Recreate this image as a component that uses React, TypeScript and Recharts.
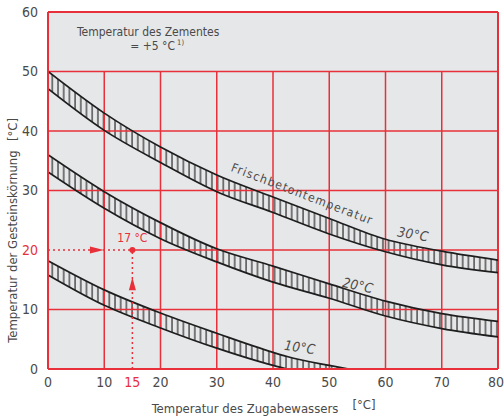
import React from 'react';
import { ComposedChart, Area, Line, XAxis, YAxis, CartesianGrid, ReferenceLine, ReferenceDot } from 'recharts';

// Wassertemperatur-Stützstellen (Zugabewasser, °C)
const waterX = [0, 10, 20, 30, 40, 50, 60, 70, 80];

// Band "30 °C" (Frischbetontemperatur)
const band30Upper = [50, 43.0, 37.3, 32.6, 28.9, 25.3, 21.8, 19.8, 18.3];
const band30Lower = [47.1, 40.1, 34.7, 29.8, 26.3, 22.7, 19.7, 17.5, 16.2];

// Band "20 °C"
const band20Upper = [36.0, 29.8, 24.6, 20.2, 17.3, 14.3, 11.4, 9.3, 8.0];
const band20Lower = [33.1, 27.0, 21.9, 18.0, 14.6, 11.9, 8.9, 6.8, 5.4];

// Band "10 °C" (läuft bei ca. 53 °C auf 0)
const band10X = [0, 10, 20, 30, 40, 42.5, 50, 53.5];
const band10Upper = [18.2, 13.3, 9.4, 6.0, 2.8, 2.1, 0.6, 0];
const band10Lower = [15.8, 10.7, 6.9, 3.5, 0.6, 0, 0, 0];

const xTicks = [0, 10, 15, 20, 30, 40, 50, 60, 70, 80];
const yTicks = [0, 10, 20, 30, 40, 50, 60];
const gridX = [10, 20, 30, 40, 50, 60, 70];
const gridY = [10, 30, 40, 50];

// Ablesebeispiel
const waterTemp = 15;
const stoneTemp = 20;
const exampleLabel = '17 °C';
const arrowRightAt = 8.7;
const arrowUpAt = 14.4;

const curveLabels = [
  { text: 'Frischbetontemperatur', x: 45.2, y: 29.4, angle: 21, spacing: 1.3, italic: false },
  { text: '30°C', x: 64.9, y: 22.7, angle: 10, spacing: 0.3, italic: true },
  { text: '20°C', x: 55.1, y: 14.1, angle: 12, spacing: 0.3, italic: true },
  { text: '10°C', x: 44.8, y: 3.7, angle: 8, spacing: 0.3, italic: true },
];

const RED = '#e8303a';
const TXT = '#4a4a4a';
const FONT = "'DejaVu Sans Condensed', 'Liberation Sans Narrow', Roboto, sans-serif";

const makeRows = (xs: number[], up: number[], lo: number[]) =>
  xs.map((x, i) => ({ x, upper: up[i], lower: lo[i], range: [lo[i], up[i]] }));

const rows30 = makeRows(waterX, band30Upper, band30Lower);
const rows20 = makeRows(waterX, band20Upper, band20Lower);
const rows10 = makeRows(band10X, band10Upper, band10Lower);
const rows10Lower = rows10.filter((r, i) => i === 0 || rows10[i - 1].lower > 0);

function XTick(props: any) {
  const { x, y, payload } = props;
  const v = payload.value;
  return (
    <text x={x} y={y} dy="0.71em" textAnchor="middle" fontSize={14} fontFamily={FONT}
      fill={v === waterTemp ? RED : TXT}>{v}</text>
  );
}

function YTick(props: any) {
  const { x, y, payload } = props;
  const v = payload.value;
  return (
    <text x={x} y={y} dy="0.355em" textAnchor="end" fontSize={14} fontFamily={FONT}
      fill={v === stoneTemp ? RED : TXT}>{v}</text>
  );
}

function XTitle(props: any) {
  const { x, width } = props.viewBox;
  const cx = x + width / 2;
  return (
    <g fontFamily={FONT} fill={TXT} fontSize={13}>
      <text x={cx - 28} y={413} textAnchor="middle">Temperatur des Zugabewassers</text>
      <text x={cx + 91} y={409} textAnchor="middle">[°C]</text>
    </g>
  );
}

function YTitle(props: any) {
  const { y, height } = props.viewBox;
  const cy = y + height / 2;
  return (
    <g fontFamily={FONT} fill={TXT} fontSize={13}>
      <text x={17} y={cy + 56} textAnchor="middle" transform={`rotate(-90 17 ${cy + 56})`}>
        Temperatur der Gesteinskörnung
      </text>
      <text x={17} y={cy - 61} textAnchor="middle" transform={`rotate(-90 17 ${cy - 61})`}>[°C]</text>
    </g>
  );
}

const arrowRight = (p: any) => (
  <path d={`M${p.cx + 7},${p.cy} L${p.cx - 7},${p.cy - 3.5} L${p.cx - 7},${p.cy + 3.5} Z`} fill={RED} />
);
const arrowUp = (p: any) => (
  <path d={`M${p.cx},${p.cy - 6} L${p.cx - 3.5},${p.cy + 7} L${p.cx + 3.5},${p.cy + 7} Z`} fill={RED} />
);

export default function App() {
  return (
    <div style={{ position: 'absolute', left: 0, top: 0 }}>
      <ComposedChart width={504} height={416} margin={{ top: 12, right: 6, bottom: 0, left: 0 }}>
        <defs>
          <pattern id="hatch" patternUnits="userSpaceOnUse" width={5.7} height={10}>
            <line x1={1} y1={0} x2={1} y2={10} stroke="#2b2b2b" strokeWidth={1.2} />
          </pattern>
        </defs>
        <CartesianGrid horizontal={false} vertical={false} fill="#e6e7e8" />
        <XAxis type="number" dataKey="x" domain={[0, 80]} ticks={xTicks} height={47}
          axisLine={{ stroke: RED, strokeWidth: 2 }} tickLine={false} tick={<XTick />}
          label={{ content: <XTitle /> }} allowDataOverflow />
        <YAxis type="number" domain={[0, 60]} ticks={yTicks} width={48} tickMargin={4}
          axisLine={{ stroke: RED, strokeWidth: 2 }} tickLine={false} tick={<YTick />}
          label={{ content: <YTitle /> }} allowDataOverflow />

        {gridY.map((v) => (
          <ReferenceLine key={'gy' + v} y={v} stroke={RED} strokeWidth={1.5} />
        ))}
        {gridX.map((v) => (
          <ReferenceLine key={'gx' + v} segment={[{ x: v, y: 0 }, { x: v, y: 50 }]} stroke={RED} strokeWidth={1.5} />
        ))}
        <ReferenceLine segment={[{ x: waterTemp, y: stoneTemp }, { x: 80, y: stoneTemp }]} stroke={RED} strokeWidth={1.5} />
        <ReferenceLine y={60} stroke={RED} strokeWidth={2} />
        <ReferenceLine x={80} stroke={RED} strokeWidth={2} />

        <Area data={rows30} dataKey="range" type="monotone" stroke="none" fill="url(#hatch)" fillOpacity={1} isAnimationActive={false} />
        <Area data={rows20} dataKey="range" type="monotone" stroke="none" fill="url(#hatch)" fillOpacity={1} isAnimationActive={false} />
        <Area data={rows10} dataKey="range" type="monotone" stroke="none" fill="url(#hatch)" fillOpacity={1} isAnimationActive={false} />
        <Line data={rows30} dataKey="upper" type="monotone" stroke="#1e1e1e" strokeWidth={1.7} dot={false} isAnimationActive={false} />
        <Line data={rows30} dataKey="lower" type="monotone" stroke="#1e1e1e" strokeWidth={1.7} dot={false} isAnimationActive={false} />
        <Line data={rows20} dataKey="upper" type="monotone" stroke="#1e1e1e" strokeWidth={1.7} dot={false} isAnimationActive={false} />
        <Line data={rows20} dataKey="lower" type="monotone" stroke="#1e1e1e" strokeWidth={1.7} dot={false} isAnimationActive={false} />
        <Line data={rows10} dataKey="upper" type="monotone" stroke="#1e1e1e" strokeWidth={1.7} dot={false} isAnimationActive={false} />
        <Line data={rows10Lower} dataKey="lower" type="monotone" stroke="#1e1e1e" strokeWidth={1.7} dot={false} isAnimationActive={false} />

        <ReferenceLine segment={[{ x: 0, y: stoneTemp }, { x: waterTemp, y: stoneTemp }]} stroke={RED} strokeWidth={1.5} strokeDasharray="2 3" />
        <ReferenceLine segment={[{ x: waterTemp, y: 0 }, { x: waterTemp, y: stoneTemp }]} stroke={RED} strokeWidth={1.5} strokeDasharray="2 3" />
        <ReferenceDot x={arrowRightAt} y={stoneTemp} shape={arrowRight} />
        <ReferenceDot x={waterTemp} y={arrowUpAt} shape={arrowUp} />
        <ReferenceDot x={waterTemp} y={stoneTemp} r={3} fill={RED} stroke="none"
          label={{ value: exampleLabel, position: 'top', offset: 5, fill: RED, fontSize: 12, fontFamily: FONT }} />

        {curveLabels.map((c) => (
          <ReferenceDot key={c.text} x={c.x} y={c.y} shape={(p: any) => (
            <text x={p.cx} y={p.cy} textAnchor="middle" dominantBaseline="central"
              transform={`rotate(${c.angle} ${p.cx} ${p.cy})`} fontSize={c.italic ? 13.5 : 12}
              fontStyle={c.italic ? 'italic' : 'normal'} letterSpacing={c.spacing}
              fontFamily={FONT} fill={TXT}>{c.text}</text>
          )} />
        ))}

        <ReferenceDot x={17.8} y={56} shape={(p: any) => (
          <g fontFamily={FONT} fill={TXT} fontSize={12} textAnchor="middle">
            <text x={p.cx} y={p.cy}>Temperatur des Zementes</text>
            <text x={p.cx + 9} y={p.cy + 14}>= +5 °C
              <tspan fontSize={7.5} dy={-5}> 1)</tspan>
            </text>
          </g>
        )} />
      </ComposedChart>
    </div>
  );
}
